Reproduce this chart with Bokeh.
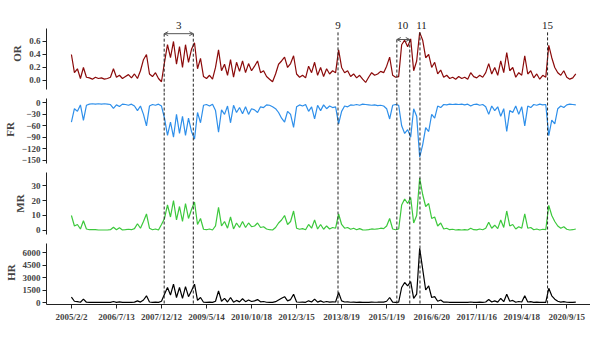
from bokeh.plotting import figure
from bokeh.layouts import column
from bokeh.models import (Range1d, FixedTicker, Span, Arrow, OpenHead, Label,
                          NumeralTickFormatter, BasicTickFormatter)
from bokeh.embed import file_html
from bokeh.resources import INLINE
from bokeh.core.properties import value

tick_labels = ["2005/2/2", "2006/7/13", "2007/12/12", "2009/5/14", "2010/10/18",
               "2012/3/15", "2013/8/19", "2015/1/19", "2016/6/20", "2017/11/16",
               "2019/4/18", "2020/9/15"]
samples_per_tick = 15

or_vals = [0.40, 0.12, 0.18, 0.03, 0.20, 0.05, 0.04, 0.02, 0.05, 0.03,
           0.04, 0.02, 0.03, 0.05, 0.18, 0.05, 0.08, 0.03, 0.06, 0.09,
           0.04, 0.10, 0.03, 0.15, 0.32, 0.40, 0.10, 0.06, 0.12, 0.03,
           -0.02, 0.28, 0.55, 0.35, 0.60, 0.25, 0.52, 0.20, 0.55, 0.28,
           0.48, 0.58, 0.18, 0.34, 0.06, 0.03, 0.08, 0.02, 0.20, 0.47,
           0.15, 0.25, 0.08, 0.32, 0.05, 0.28, 0.14, 0.30, 0.12, 0.26,
           0.15, 0.22, 0.30, 0.12, 0.15, 0.06, 0.02, -0.02, 0.10, 0.25,
           0.30, 0.36, 0.20, 0.26, 0.38, 0.10, 0.05, 0.08, 0.04, 0.22,
           0.12, 0.28, 0.08, 0.20, 0.06, 0.18, 0.10, 0.15, 0.12, 0.47,
           0.20, 0.12, 0.15, 0.06, 0.10, 0.04, 0.08, 0.02, -0.03, 0.05,
           0.12, 0.08, 0.10, 0.14, 0.12, 0.22, 0.36, 0.08, 0.05, 0.06,
           0.55, 0.62, 0.52, 0.64, 0.15, 0.30, 0.74, 0.62, 0.35, 0.40,
           0.20, 0.28, 0.10, 0.16, 0.05, 0.08, 0.03, 0.05, 0.02, 0.06,
           0.03, 0.05, 0.02, 0.12, 0.06, 0.04, 0.08, 0.05, 0.12, 0.26,
           0.10, 0.20, 0.08, 0.30, 0.12, 0.43, 0.15, 0.20, 0.05, 0.12,
           0.08, 0.38, 0.10, 0.15, 0.04, 0.10, 0.02, 0.08, 0.05, 0.54,
           0.35, 0.20, 0.12, 0.08, 0.15, 0.05, 0.02, 0.04, 0.10]

fr_vals = [-50, -15, -22, -5, -46, -6, -3, -2, -3, -2,
           -3, -2, -3, -4, -14, -5, -9, -3, -4, -6,
           -3, -8, -20, -8, -30, -60, -8, -4, -6, -3,
           -8, -40, -85, -50, -90, -30, -80, -35, -85, -40,
           -75, -95, -25, -52, -6, -4, -8, -3, -20, -77,
           -18, -30, -8, -52, -6, -25, -12, -28, -10, -30,
           -15, -18, -25, -10, -12, -5, -6, -10, -15, -25,
           -40, -50, -22, -30, -64, -10, -5, -8, -4, -22,
           -10, -42, -6, -20, -5, -15, -8, -12, -10, -55,
           -22, -8, -10, -5, -6, -4, -6, -3, -4, -5,
           -6, -5, -7, -6, -8, -15, -42, -6, -4, -6,
           -60, -80, -70, -90, -15, -35, -142, -110, -65, -75,
           -30, -40, -8, -12, -4, -5, -3, -4, -3, -4,
           -3, -5, -3, -8, -4, -3, -6, -4, -10, -30,
           -8, -20, -10, -35, -15, -75, -20, -25, -8, -30,
           -10, -60, -8, -12, -4, -6, -3, -5, -4, -86,
           -45, -55, -15, -8, -12, -5, -3, -4, -5]

mr_vals = [10, 3, 4, 1, 6.5, 1, 0.5, 0.5, 0.5, 0.3,
           0.3, 0.3, 0.3, 0.5, 2.2, 0.5, 1.8, 0.3, 0.5, 0.8,
           0.5, 1.2, 4.5, 1.5, 6, 11, 1.5, 0.5, 1, 0.3,
           4, 8, 17, 9, 20, 7, 16, 6, 18, 8,
           14, 19, 4, 8, 0.8, 0.5, 1, 0.3, 3, 15.5,
           3, 6, 1.5, 9, 1, 5, 2, 6, 2, 5,
           2.5, 3, 5, 2, 2.5, 1, 0.5, 0.3, 2, 5,
           7, 10, 4, 6, 13, 1.5, 0.8, 1.2, 0.5, 4,
           1.5, 7, 1, 4, 0.8, 3, 1, 2, 1.5, 11,
           4, 1.5, 2, 0.8, 1.5, 0.5, 1.2, 0.4, 0.3, 0.6,
           1, 0.8, 1, 1.5, 1.2, 3, 8, 1, 0.5, 1,
           17, 21, 18, 22, 5, 10, 35, 24, 16, 18,
           8, 9, 3, 5, 1, 1.5, 0.5, 0.8, 0.3, 0.5,
           0.3, 0.5, 0.3, 1.5, 0.5, 0.4, 1, 0.5, 1.5, 5.5,
           1.5, 3.5, 1.2, 7, 2, 13, 3, 4, 1, 2.5,
           1.5, 11, 1.5, 2, 0.5, 1, 0.3, 0.8, 0.5, 16.7,
           10, 6, 3, 1.5, 2.5, 0.8, 0.3, 0.5, 1]

hr_vals = [650, 150, 100, 30, 400, 30, 20, 15, 20, 10,
           15, 10, 10, 15, 120, 20, 80, 10, 20, 30,
           15, 40, 200, 50, 300, 800, 60, 20, 40, 10,
           150, 1000, 1800, 900, 2200, 600, 1800, 500, 1900, 700,
           1400, 2200, 250, 600, 30, 20, 40, 10, 150, 1400,
           150, 500, 60, 600, 40, 250, 80, 450, 100, 300,
           120, 200, 350, 80, 120, 30, 15, 10, 100, 300,
           500, 700, 200, 350, 1000, 60, 30, 50, 20, 200,
           60, 400, 40, 200, 30, 120, 40, 80, 60, 1200,
           200, 60, 80, 30, 50, 20, 40, 10, 10, 20,
           40, 30, 40, 60, 50, 150, 600, 40, 20, 40,
           1800, 2400, 2000, 2500, 500, 1000, 6500, 4000, 1500, 2000,
           600, 700, 150, 300, 40, 60, 15, 25, 10, 20,
           10, 15, 10, 60, 15, 10, 40, 20, 60, 350,
           60, 200, 50, 500, 100, 1000, 150, 250, 30, 120,
           60, 800, 60, 100, 20, 40, 10, 30, 20, 1700,
           800, 400, 150, 50, 100, 30, 10, 20, 40]

# event markers (sample index positions)
event_lines = [30.9, 40.6, 88.8, 108.4, 112.7, 116.1, 158.6]
event_tops = [0.72, 0.72, 0.74, 0.63, 0.63, 0.74, 0.74]
event_names = ["3", "9", "10", "11", "15"]
event_name_x = [35.75, 88.8, 110.4, 116.6, 158.6]
event_arrows = [(30.9, 40.6, 0.72), (108.4, 112.7, 0.63)]

idx = list(range(len(or_vals)))
tick_idx = [samples_per_tick * k for k in range(len(tick_labels))]

SERIF = "Liberation Serif"
W = 590
LEFT = 45
x_range = Range1d(-8.3, 172.9)


def make_fig(height, y0, y1, top=0, bottom=0, show_x=False):
    p = figure(width=W, height=height, x_range=x_range, y_range=Range1d(y0, y1),
               output_backend="svg", toolbar_location=None,
               x_axis_location="below" if show_x else None,
               min_border_left=LEFT, min_border_right=0,
               min_border_top=top, min_border_bottom=bottom)
    p.outline_line_color = None
    p.grid.visible = False
    p.background_fill_color = "white"
    p.border_fill_color = "white"
    ax = p.yaxis[0]
    ax.major_label_text_font = SERIF
    ax.major_label_text_font_style = "bold"
    ax.major_label_text_font_size = "9px"
    ax.axis_label_text_font = SERIF
    ax.axis_label_text_font_style = "bold"
    ax.axis_label_text_font_size = "11px"
    ax.axis_label_standoff = 3
    ax.major_label_standoff = 2
    ax.major_tick_out = 4
    ax.major_tick_in = 0
    ax.minor_tick_out = 0
    ax.minor_tick_in = 0
    ax.axis_line_color = "#222222"
    ax.major_tick_line_color = "#222222"
    return p


def add_spans(p):
    for ex in event_lines:
        p.add_layout(Span(location=ex, dimension="height", line_color="#222222",
                          line_width=1, line_dash="3 2"))


# OR panel
p1 = make_fig(92, -0.185, 1.015, top=14)
p1.line(idx, or_vals, line_color="#8B0A0A", line_width=1.2)
p1.yaxis.axis_label = "OR"
p1.yaxis.ticker = FixedTicker(ticks=[0.0, 0.2, 0.4, 0.6])
p1.yaxis.formatter = NumeralTickFormatter(format="0.0")
p1.yaxis.bounds = (-0.14, 0.8)
p1.segment(x0=event_lines, y0=event_tops, x1=event_lines, y1=[-0.185] * len(event_lines),
           line_color="#222222", line_width=1, line_dash="3 2")
for a, b, yy in event_arrows:
    p1.add_layout(Arrow(x_start=a, y_start=yy, x_end=b, y_end=yy,
                        line_color="#555555", line_width=1,
                        start=OpenHead(size=4, line_color="#555555", line_width=1),
                        end=OpenHead(size=4, line_color="#555555", line_width=1)))
for name, nx in zip(event_names, event_name_x):
    p1.add_layout(Label(x=nx, y=0.84, text=name, text_font=SERIF,
                        text_font_size="11px", text_align="center",
                        text_baseline="middle", text_color="#222222"))

# FR panel
p2 = make_fig(74, -167, 27.6)
add_spans(p2)
p2.line(idx, fr_vals, line_color="#2E8FEA", line_width=1.2)
p2.yaxis.axis_label = "FR"
p2.yaxis.ticker = FixedTicker(ticks=[0, -30, -60, -90, -120, -150])
p2.yaxis.bounds = (-158, 12)

# MR panel
p3 = make_fig(74, -6.7, 42.7)
add_spans(p3)
p3.line(idx, mr_vals, line_color="#3CC83C", line_width=1.2)
p3.yaxis.axis_label = "MR"
p3.yaxis.ticker = FixedTicker(ticks=[0, 10, 20, 30])
p3.yaxis.bounds = (-3, 39)

# HR panel
p4 = make_fig(90, -240, 7440, bottom=26, show_x=True)
add_spans(p4)
p4.line(idx, hr_vals, line_color="#000000", line_width=1.2)
p4.yaxis.axis_label = "HR"
p4.yaxis.ticker = FixedTicker(ticks=[0, 1500, 3000, 4500, 6000])
p4.yaxis.formatter = BasicTickFormatter(use_scientific=False)
p4.yaxis.bounds = (-240, 7080)
xa = p4.xaxis[0]
xa.ticker = FixedTicker(ticks=tick_idx)
xa.major_label_overrides = {t: lab for t, lab in zip(tick_idx, tick_labels)}
xa.major_label_text_font = SERIF
xa.major_label_text_font_style = "bold"
xa.major_label_text_font_size = "9px"
xa.major_label_standoff = 3
xa.major_tick_out = 4
xa.major_tick_in = 0
xa.minor_tick_out = 0
xa.minor_tick_in = 0
xa.axis_line_color = "#222222"
xa.major_tick_line_color = "#222222"

layout = column(p1, p2, p3, p4, spacing=0)
open("out.html", "w").write(file_html(layout, INLINE))
